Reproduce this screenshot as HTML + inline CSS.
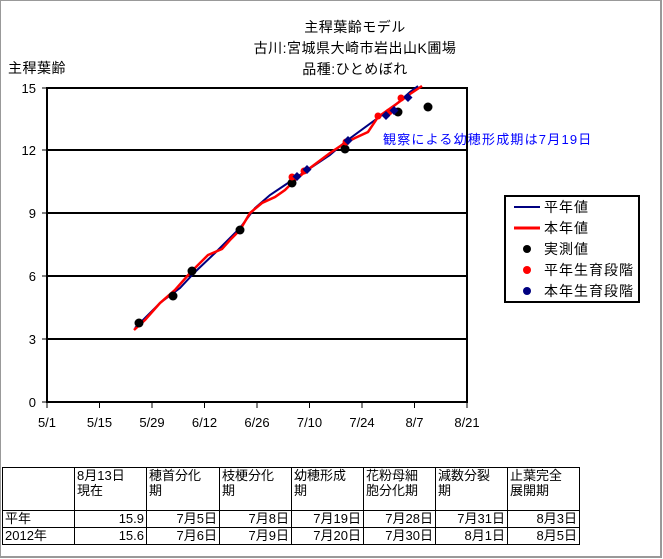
<!DOCTYPE html>
<html><head><meta charset="utf-8"><style>
body{margin:0;background:#fff;width:663px;height:559px;overflow:hidden;position:relative;font-family:"Liberation Sans","Noto Sans CJK JP",sans-serif;}
.frame{position:absolute;left:0;top:0;width:659px;height:555px;border:2px solid #999;border-width:1px 2px 2px 1px;}
table{position:absolute;left:2px;top:467px;border-collapse:collapse;font-size:13px;line-height:15px;}
td{border:1px solid #000;padding:0 2px;vertical-align:top;white-space:nowrap;}
td.r{text-align:right;}
</style></head><body>
<div class="frame"></div>
<svg width="663" height="559" style="position:absolute;left:0;top:0" font-family="Liberation Sans, Noto Sans CJK JP, sans-serif">
<g font-size="14" text-anchor="middle" fill="#000" letter-spacing="0.5">
<text x="355" y="32">主稈葉齢モデル</text>
<text x="355" y="53">古川:宮城県大崎市岩出山K圃場</text>
<text x="355" y="74">品種:ひとめぼれ</text>
</g>
<text x="8" y="73" font-size="14" letter-spacing="0.5">主稈葉齢</text>
<g stroke="#000" stroke-width="2">
<line x1="47" y1="88" x2="467" y2="88"/><line x1="47" y1="150" x2="467" y2="150"/>
<line x1="47" y1="213" x2="467" y2="213"/><line x1="47" y1="276" x2="467" y2="276"/>
<line x1="47" y1="339" x2="467" y2="339"/><line x1="47" y1="402" x2="467" y2="402"/>
<line x1="47" y1="87" x2="47" y2="403"/><line x1="467" y1="87" x2="467" y2="403"/>
</g>
<g stroke="#000" stroke-width="1">
<path d="M42 88H47M42 150H47M42 213H47M42 276H47M42 339H47M42 402H47"/>
<path d="M47 402V408M99.5 402V408M152 402V408M204.5 402V408M257 402V408M309.5 402V408M362 402V408M414.5 402V408M467 402V408"/>
</g>
<g font-size="13" text-anchor="end"><text x="36" y="93">15</text><text x="36" y="155">12</text><text x="36" y="218">9</text><text x="36" y="281">6</text><text x="36" y="344">3</text><text x="36" y="407">0</text></g>
<g font-size="13" text-anchor="middle"><text x="47" y="427">5/1</text><text x="99.5" y="427">5/15</text><text x="152" y="427">5/29</text><text x="204.5" y="427">6/12</text><text x="257" y="427">6/26</text><text x="309.5" y="427">7/10</text><text x="362" y="427">7/24</text><text x="414.5" y="427">8/7</text><text x="467" y="427">8/21</text></g>
<polyline fill="none" stroke="#000080" stroke-width="2" points="135,328 160,303 180,288 195,272 215,253 240,228 255,208 270,195 285,185 300,175 330,155 345,142 375,120 392,108 410,92 418,86"/>
<polyline fill="none" stroke="#f00" stroke-width="2.5" points="134,330 145,320 160,303 175,290 190,273 208,255 222,249 230,240 240,230 250,213 262,203 275,197 285,190 295,180 310,168 330,153 345,143 355,138 368,132 378,117 395,105 410,94 422,86"/>
<g fill="#000"><circle cx="139" cy="323" r="4.5"/><circle cx="173" cy="296" r="4.5"/><circle cx="192" cy="271" r="4.5"/><circle cx="240" cy="230" r="4.5"/><circle cx="292" cy="183" r="4.5"/><circle cx="345" cy="149" r="4.5"/><circle cx="398" cy="112" r="4.5"/><circle cx="428" cy="107" r="4.5"/></g>
<g fill="#f00"><circle cx="292" cy="177" r="3.5"/><circle cx="304" cy="171" r="3.5"/><circle cx="346" cy="142" r="3.5"/><circle cx="378" cy="116" r="3.5"/><circle cx="389" cy="112" r="3.5"/><circle cx="401" cy="98" r="3.5"/></g>
<g fill="#000080"><path d="M297 172l4.5 4.5-4.5 4.5-4.5-4.5z"/><path d="M307 165l4.5 4.5-4.5 4.5-4.5-4.5z"/><path d="M348 136l4.5 4.5-4.5 4.5-4.5-4.5z"/><path d="M386 111l4.5 4.5-4.5 4.5-4.5-4.5z"/><path d="M394 106l4.5 4.5-4.5 4.5-4.5-4.5z"/><path d="M408 93l4.5 4.5-4.5 4.5-4.5-4.5z"/></g>
<text x="383" y="144" font-size="13" fill="#0000ff" letter-spacing="1.2">観察による幼穂形成期は7月19日</text>
<rect x="505" y="196" width="134" height="106" fill="#fff" stroke="#000" stroke-width="2"/>
<line x1="514" y1="207" x2="540" y2="207" stroke="#000080" stroke-width="2"/>
<line x1="514" y1="228" x2="540" y2="228" stroke="#f00" stroke-width="3"/>
<circle cx="527" cy="249" r="4" fill="#000"/><circle cx="527" cy="270" r="4" fill="#f00"/><circle cx="527" cy="291" r="4" fill="#000080"/>
<g font-size="14" letter-spacing="1"><text x="544" y="212">平年値</text><text x="544" y="233">本年値</text><text x="544" y="254">実測値</text><text x="544" y="275">平年生育段階</text><text x="544" y="296">本年生育段階</text></g>
</svg>
<table>
<tr style="height:43px"><td style="width:67px"></td><td style="width:67px">8月13日<br>現在</td><td style="width:68px">穂首分化<br>期</td><td style="width:67px">枝梗分化<br>期</td><td style="width:67px">幼穂形成<br>期</td><td style="width:67px">花粉母細<br>胞分化期</td><td style="width:67px">減数分裂<br>期</td><td style="width:67px">止葉完全<br>展開期</td></tr>
<tr style="height:17px"><td>平年</td><td class="r">15.9</td><td class="r">7月5日</td><td class="r">7月8日</td><td class="r">7月19日</td><td class="r">7月28日</td><td class="r">7月31日</td><td class="r">8月3日</td></tr>
<tr style="height:17px"><td>2012年</td><td class="r">15.6</td><td class="r">7月6日</td><td class="r">7月9日</td><td class="r">7月20日</td><td class="r">7月30日</td><td class="r">8月1日</td><td class="r">8月5日</td></tr>
</table>
</body></html>
